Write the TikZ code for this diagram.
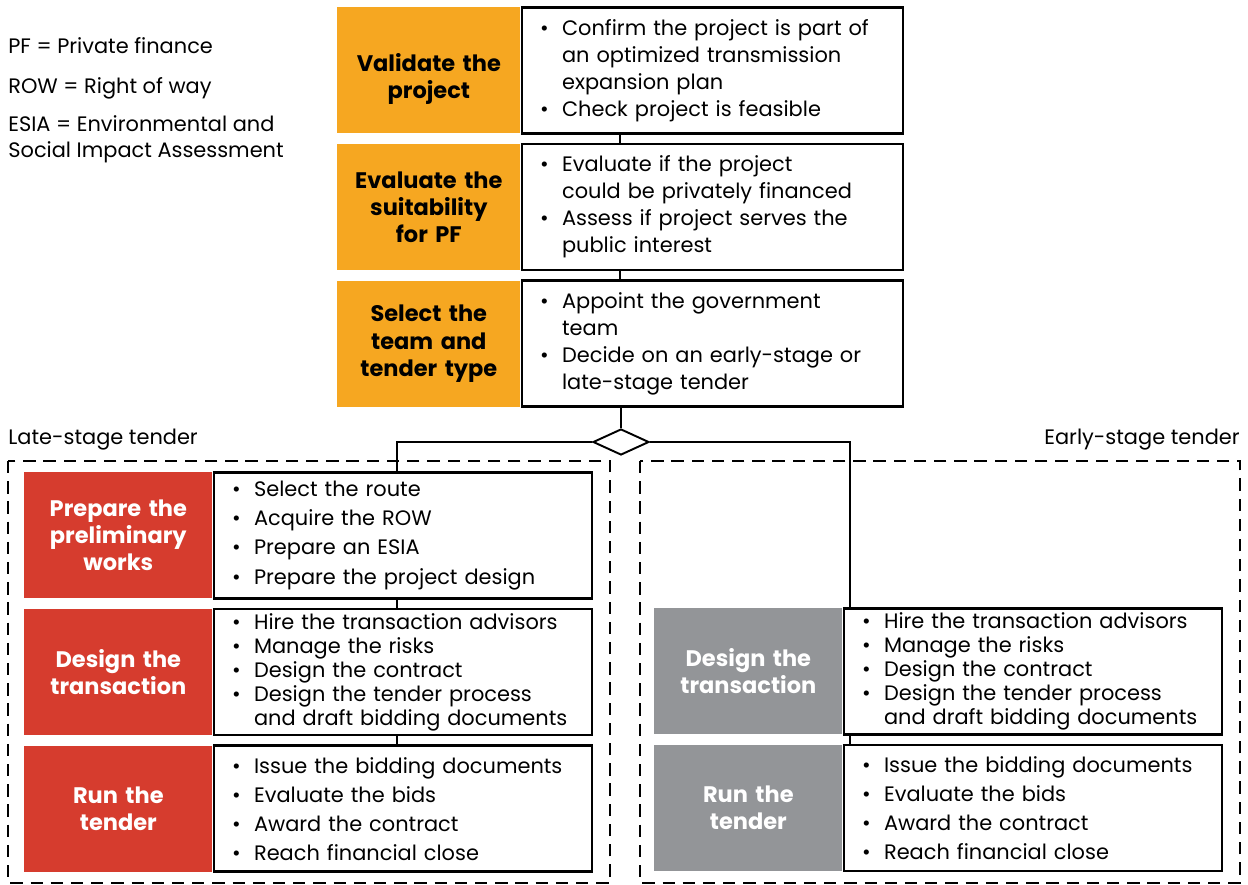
\documentclass[tikz,border=0pt]{standalone}
\usepackage{fontspec}
\setmainfont{Poppins}
\usetikzlibrary{positioning,shapes.geometric,calc}
\definecolor{stageorange}{RGB}{246,167,33}
\definecolor{stagered}{RGB}{214,60,46}
\definecolor{stagegrey}{RGB}{147,149,152}
\newcommand{\itm}[1]{\noindent\hangindent=0.8cm\hangafter=1\hspace*{0.36cm}\makebox[0.44cm][l]{\textbullet}#1\par}
\newcommand{\lowered}[2]{\raisebox{-#1}[\height][\depth]{\begin{tabular}{@{}c@{}}#2\end{tabular}}}

\begin{document}
\begin{tikzpicture}[x=0.02cm, y=-0.02cm,
  stage/.style={fill=#1, minimum width=3.76cm, minimum height=2.52cm, inner sep=0pt,
    align=center, text width=3.6cm, font=\bfseries\fontsize{12.8}{15.4}\selectfont},
  topstage/.style={stage=stageorange, minimum width=3.66cm, text=black},
  latestage/.style={stage=stagered, text=white},
  earlystage/.style={stage=stagegrey, text=white},
  itembox/.style={draw, fill=white, line width=1.6pt, minimum height=2.52cm,
    inner sep=0pt, text width=7.56cm, align=left,
    font=\fontsize{11.9}{#1}\selectfont},
  itembox/.default=15.4pt,
  topitems/.style={itembox, text width=7.62cm},
  link/.style={line width=1.6pt},
  split/.style={diamond, draw, fill=white, line width=1.1pt, aspect=2,
    minimum width=1.12cm, minimum height=0.52cm, inner sep=0pt},
  frame/.style={line width=1.6pt, dash pattern=on 7pt off 4.5pt},
  note/.style={inner sep=0pt, align=left, font=\fontsize{11.9}{14.8}\selectfont}]
\useasboundingbox (0,0) rectangle (1248,885);

% dashed tender frames
\draw[frame] (8,461) rectangle (610,883);
\draw[frame] (640,461) rectangle (1240,883);
\node[note, anchor=west] (latelbl) at (8,440) {Late-stage tender};
\node[note, anchor=east] (earlylbl) at (1240,440) {Early-stage tender};

% abbreviations
\node[note, anchor=west] (pf) at (8,46) {PF = Private finance};
\node[note, anchor=west] (row) at (8,88) {ROW = Right of way};
\node[note, anchor=west] (esia) at (8,139) {ESIA = Environmental and\\Social Impact Assessment};

% common steps
\node[topstage, anchor=north west] (valid) at (337,7) {\lowered{0.19cm}{Validate the\\project}};
\node[topitems, right=0pt of valid] (validl) {\itm{Confirm the project is part of\newline an optimized transmission\newline expansion plan}\itm{Check project is feasible}};
\node[topstage, below=0.2cm of valid] (suit) {Evaluate the\\suitability\\for PF};
\node[topitems, right=0pt of suit] (suitl) {\itm{Evaluate if the project\newline could be privately financed}\itm{Assess if project serves the\newline public interest}};
\node[topstage, below=0.2cm of suit] (team) {Select the\\team and\\tender type};
\node[topitems, right=0pt of team] (teaml) {\itm{Appoint the government\newline team}\itm{Decide on an early-stage or\newline late-stage tender}};

\coordinate (spine) at (620,0);
\draw[link] (validl.south -| spine) -- (suitl.north -| spine);
\draw[link] (suitl.south -| spine) -- (teaml.north -| spine);

% late-stage tender
\node[latestage, anchor=north west] (prep) at (24,472) {Prepare the\\preliminary\\works};
\node[itembox=16.7pt, right=0pt of prep] (prepl) {\itm{Select the route}\itm{Acquire the ROW}\itm{Prepare an ESIA}\itm{Prepare the project design}};
\node[latestage, below=0.2cm of prep] (ldes) {Design the\\transaction};
\node[itembox=13.7pt, right=0pt of ldes] (ldesl) {\itm{Hire the transaction advisors}\itm{Manage the risks}\itm{Design the contract}\itm{Design the tender process\newline and draft bidding documents}};
\node[latestage, below=0.2cm of ldes] (lrun) {Run the\\tender};
\node[itembox=16.5pt, right=0pt of lrun] (lrunl) {\itm{Issue the bidding documents}\itm{Evaluate the bids}\itm{Award the contract}\itm{Reach financial close}};

% early-stage tender
\node[earlystage, anchor=north west] (rdes) at (654,608) {Design the\\transaction};
\node[itembox=13.7pt, right=0pt of rdes] (rdesl) {\itm{Hire the transaction advisors}\itm{Manage the risks}\itm{Design the contract}\itm{Design the tender process\newline and draft bidding documents}};
\node[earlystage, below=0.2cm of rdes] (rrun) {Run the\\tender};
\node[itembox=16.5pt, right=0pt of rrun] (rrunl) {\itm{Issue the bidding documents}\itm{Evaluate the bids}\itm{Award the contract}\itm{Reach financial close}};

% branch to the two tenders
\coordinate (lspine) at (397,0);
\coordinate (rspine) at (850,0);
\node[split] (fork) at (621,442) {};
\draw[link] (teaml.south -| fork) -- (fork.north);
\draw[link] (fork.west) -| (prepl.north -| lspine);
\draw[link] (fork.east) -| (rdesl.north -| rspine);
\draw[link] (prepl.south -| lspine) -- (ldesl.north -| lspine);
\draw[link] (ldesl.south -| lspine) -- (lrunl.north -| lspine);
\draw[link] (rdesl.south -| rspine) -- (rrunl.north -| rspine);
\end{tikzpicture}
\end{document}
